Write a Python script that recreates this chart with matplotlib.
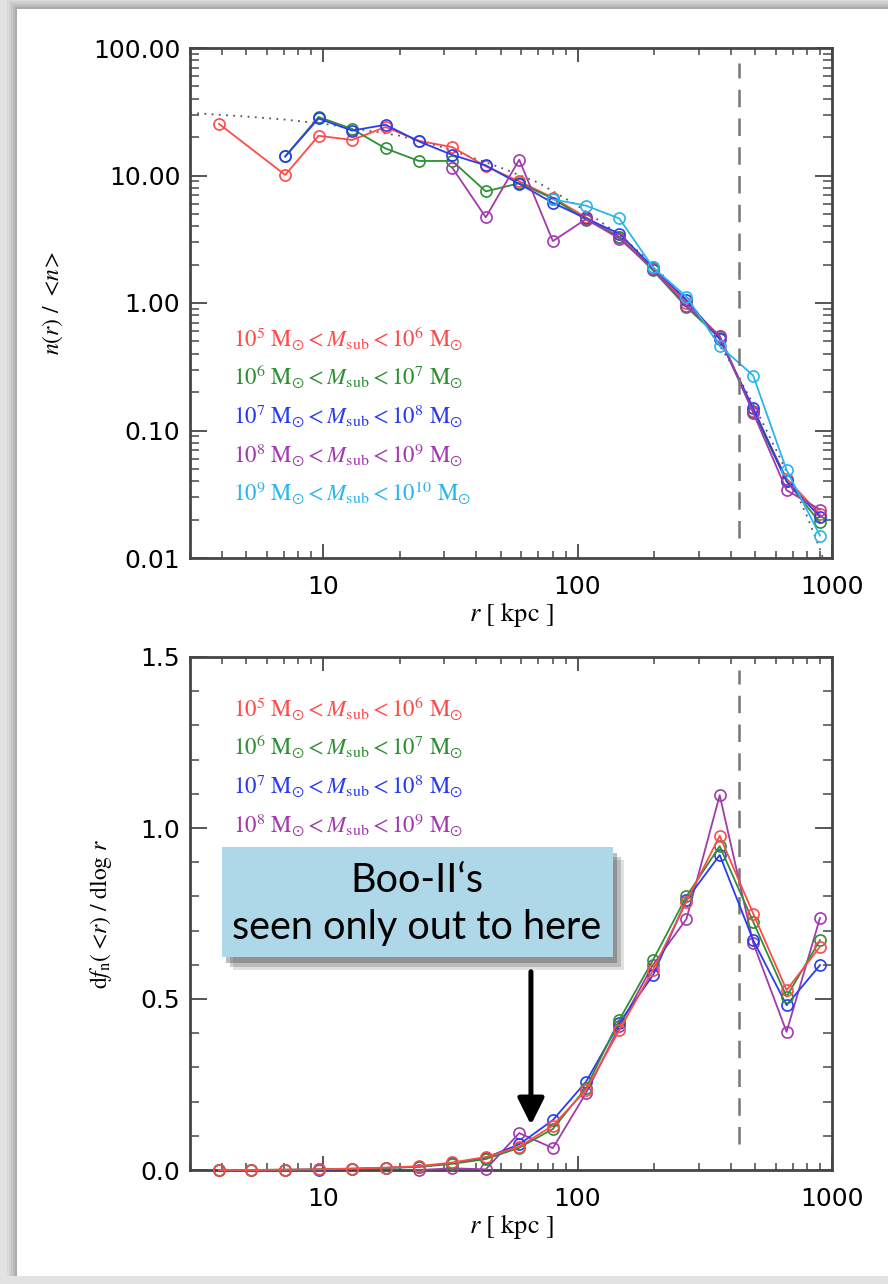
import matplotlib
matplotlib.use('Agg')
import matplotlib.pyplot as plt
import matplotlib.ticker as mticker
import matplotlib.patches as mpatches
import matplotlib.patheffects as pe

plt.rcParams['mathtext.fontset'] = 'stix'
plt.rcParams['font.family'] = ['DejaVu Sans']

# ---- data ----
# top panel: n(r)/<n>
r_red_top = [3.9, 7.1, 9.6, 13, 17.6, 23.8, 32.2, 43.6, 59, 80, 108, 146, 198, 268, 362, 490, 663, 897]
n_red_top = [25.4, 10.1, 20.5, 19, 24, 18.7, 16.7, 11.8, 9.0, 6.7, 4.7, 3.3, 1.85, 1.0, 0.55, 0.143, 0.042, 0.022]
r_grn_top = [7.1, 9.6, 13, 17.6, 23.8, 32.2, 43.6, 59, 80, 108, 146, 198, 268, 362, 490, 663, 897]
n_grn_top = [14.1, 28.8, 23.2, 16.3, 13, 13, 7.5, 8.7, 6.6, 4.5, 3.3, 1.8, 0.93, 0.53, 0.14, 0.040, 0.019]
r_blu_top = [7.1, 9.6, 13, 17.6, 23.8, 32.2, 43.6, 59, 80, 108, 146, 198, 268, 362, 490, 663, 897]
n_blu_top = [14.1, 28, 22.5, 25, 18.5, 14.5, 12, 8.6, 6.1, 4.6, 3.5, 1.9, 1.05, 0.52, 0.15, 0.040, 0.021]
r_pur_top = [32.2, 43.6, 59, 80, 108, 146, 198, 268, 362, 490, 663, 897]
n_pur_top = [11.5, 4.7, 13.3, 3.06, 4.55, 3.2, 1.85, 0.95, 0.55, 0.138, 0.034, 0.024]
r_cyn_top = [80, 108, 146, 198, 268, 362, 490, 663, 897]
n_cyn_top = [6.5, 5.8, 4.6, 1.9, 1.12, 0.46, 0.27, 0.049, 0.015]

# dotted reference profile
r_fit = [3, 5, 7, 10, 15, 20, 30, 50, 70, 100, 150, 200, 300, 400, 500, 600, 700, 800, 900, 1000]
n_fit = [31, 29, 27.5, 25.5, 22.5, 20.5, 16.5, 11.5, 8.8, 5.8, 3.3, 1.95, 0.82, 0.34, 0.15, 0.072, 0.038, 0.021, 0.0115, 0.006]

# bottom panel: df_n(<r)/dlog r
r_bins = [3.9, 5.2, 7.1, 9.6, 13, 17.6, 23.8, 32.2, 43.6, 59, 80, 108, 146, 198, 268, 362, 490, 663, 897]
f_red = [0.0, 0.0, 0.001, 0.002, 0.004, 0.007, 0.011, 0.022, 0.038, 0.068, 0.13, 0.234, 0.409, 0.585, 0.785, 0.977, 0.75, 0.526, 0.653]
f_grn = [0.0, 0.0, 0.001, 0.002, 0.004, 0.006, 0.009, 0.018, 0.032, 0.065, 0.12, 0.24, 0.439, 0.614, 0.80, 0.947, 0.726, 0.507, 0.672]
f_blu = [0.0, 0.0, 0.0, 0.001, 0.003, 0.006, 0.010, 0.020, 0.036, 0.075, 0.146, 0.258, 0.43, 0.570, 0.79, 0.921, 0.672, 0.482, 0.599]
r_pur_bot = [23.8, 32.2, 43.6, 59, 80, 108, 146, 198, 268, 362, 490, 663, 897]
f_pur = [0.0, 0.005, 0.002, 0.108, 0.064, 0.225, 0.42, 0.60, 0.734, 1.096, 0.664, 0.404, 0.737]

labels = [r'$10^{5}\ \mathrm{M}_{\odot} < M_{\rm sub} < 10^{6}\ \mathrm{M}_{\odot}$',
          r'$10^{6}\ \mathrm{M}_{\odot} < M_{\rm sub} < 10^{7}\ \mathrm{M}_{\odot}$',
          r'$10^{7}\ \mathrm{M}_{\odot} < M_{\rm sub} < 10^{8}\ \mathrm{M}_{\odot}$',
          r'$10^{8}\ \mathrm{M}_{\odot} < M_{\rm sub} < 10^{9}\ \mathrm{M}_{\odot}$',
          r'$10^{9}\ \mathrm{M}_{\odot} < M_{\rm sub} < 10^{10}\ \mathrm{M}_{\odot}$']
colors = ['#ff4a4a', '#2e8f34', '#2a3cf0', '#a23aae', '#27b6ef']

r_vir = 430

fig = plt.figure(figsize=(8.88, 12.84), dpi=100, facecolor='#e2e2e2')

# slide panel with soft shadow (behind the axes)
for k, a in enumerate([0.03, 0.04, 0.05, 0.06, 0.08]):
    d = (5 - k) * 2
    fig.patches.append(mpatches.Rectangle(((17 - d) / 888, 8 / 1284), 1.2, (1284 - 9 - 8 + d) / 1284,
                                          transform=fig.transFigure, facecolor='k', alpha=a,
                                          edgecolor='none', zorder=-20))
fig.patches.append(mpatches.Rectangle((17 / 888, 8 / 1284), 1.0, (1284 - 9 - 8) / 1284,
                                      transform=fig.transFigure, facecolor='white',
                                      edgecolor='none', zorder=-10))

ax1 = fig.add_axes([190 / 888, 1 - 558 / 1284, 642 / 888, 510 / 1284])
ax2 = fig.add_axes([190 / 888, 1 - 1170 / 1284, 642 / 888, 513 / 1284])
for ax in (ax1, ax2):
    ax.set_facecolor('none')


def style_axes(ax):
    ax.set_xscale('log')
    ax.set_xlim(3, 1000)
    for s in ax.spines.values():
        s.set_color('#454545')
        s.set_linewidth(2.0)
    ax.tick_params(axis='both', which='both', direction='in', top=True, right=True,
                   colors='#555555', labelcolor='black', labelsize=18)
    ax.tick_params(axis='x', which='major', length=10, width=1.4, pad=12)
    ax.tick_params(axis='x', which='minor', length=5, width=1.2)
    ax.tick_params(axis='y', which='major', length=12, width=1.4, pad=7)
    ax.tick_params(axis='y', which='minor', length=6.5, width=1.2)
    ax.xaxis.set_major_formatter(mticker.FormatStrFormatter('%g'))
    ax.xaxis.set_minor_formatter(mticker.NullFormatter())
    ax.set_xlabel(r'$r\ [\ \mathrm{kpc}\ ]$', fontsize=19, labelpad=1)


# ---- top panel ----
style_axes(ax1)
ax1.set_yscale('log')
ax1.set_ylim(0.01, 100)
ax1.yaxis.set_major_formatter(mticker.FormatStrFormatter('%.2f'))
ax1.yaxis.set_minor_formatter(mticker.NullFormatter())
ax1.plot(r_fit, n_fit, ls=(0, (1, 3)), color='#555555', lw=1.3)
top_r = [r_red_top, r_grn_top, r_blu_top, r_pur_top, r_cyn_top]
top_n = [n_red_top, n_grn_top, n_blu_top, n_pur_top, n_cyn_top]
for rr, nn, c in zip(top_r, top_n, colors):
    ax1.plot(rr, nn, color=c, lw=1.3, marker='o', ms=8, mfc='none', mew=1.2)
ax1.axvline(r_vir, ymin=0.04, ymax=0.97, color='#777777', lw=1.8, ls=(0, (7, 4.5)))
for lab, c, yb in zip(labels, colors, [0.4137, 0.339, 0.265, 0.188, 0.1137]):
    ax1.text(0.067, yb, lab, color=c, fontsize=16.5, transform=ax1.transAxes, va='baseline')
ax1.set_ylabel(r'$n(r)\ /\ <\!n\!>$', fontsize=17)
ax1.yaxis.set_label_coords(-0.195, 0.5)

# ---- bottom panel ----
style_axes(ax2)
ax2.set_ylim(0, 1.5)
ax2.yaxis.set_major_locator(mticker.MultipleLocator(0.5))
ax2.yaxis.set_minor_locator(mticker.MultipleLocator(0.1))
ax2.yaxis.set_major_formatter(mticker.FormatStrFormatter('%.1f'))
bot_r = [r_bins, r_bins, r_bins, r_pur_bot]
bot_f = [f_red, f_grn, f_blu, f_pur]
for i in [3, 2, 1, 0]:
    ax2.plot(bot_r[i], bot_f[i], color=colors[i], lw=1.3, marker='o', ms=8, mfc='none', mew=1.2,
             clip_on=False, zorder=3 + (3 - i))
ax2.axvline(r_vir, ymin=0.05, ymax=0.975, color='#777777', lw=1.8, ls=(0, (7, 4.5)))
for lab, c, yb in zip(labels[:4], colors[:4], [0.884, 0.809, 0.735, 0.659]):
    ax2.text(0.067, yb, lab, color=c, fontsize=16.5, transform=ax2.transAxes, va='baseline')
ax2.set_ylabel(r'$\mathrm{d}f_{\rm n}(<\!r)\ /\ \mathrm{dlog}\ r$', fontsize=17)
ax2.yaxis.set_label_coords(-0.118, 0.5)

# annotation box and arrow
box = mpatches.Rectangle((222 / 888, 1 - 957 / 1284), 391 / 888, 110 / 1284,
                         transform=fig.transFigure, facecolor='#aed8e8', edgecolor='none', zorder=5)
box.set_path_effects([pe.SimplePatchShadow(offset=(8, -9), shadow_rgbFace='#888888', alpha=0.25),
                      pe.SimplePatchShadow(offset=(6, -7), shadow_rgbFace='#666666', alpha=0.3),
                      pe.SimplePatchShadow(offset=(3, -4), shadow_rgbFace='#444444', alpha=0.35),
                      pe.Normal()])
fig.patches.append(box)
fig.text(417 / 888, 1 - 880 / 1284, 'Boo-II‘s', ha='center', va='center', fontsize=28.5,
         family='Lato', zorder=6)
fig.text(417 / 888, 1 - 927 / 1284, 'seen only out to here', ha='center', va='center', fontsize=28.5,
         family='Lato', zorder=6)
ax2.annotate('', xy=(65.6, 0.132), xytext=(65.6, 0.58),
             arrowprops=dict(arrowstyle='-|>', lw=3.6, color='black', mutation_scale=40,
                             shrinkA=0, shrinkB=0), zorder=10)

fig.savefig('out.png', dpi=100, facecolor=fig.get_facecolor())
